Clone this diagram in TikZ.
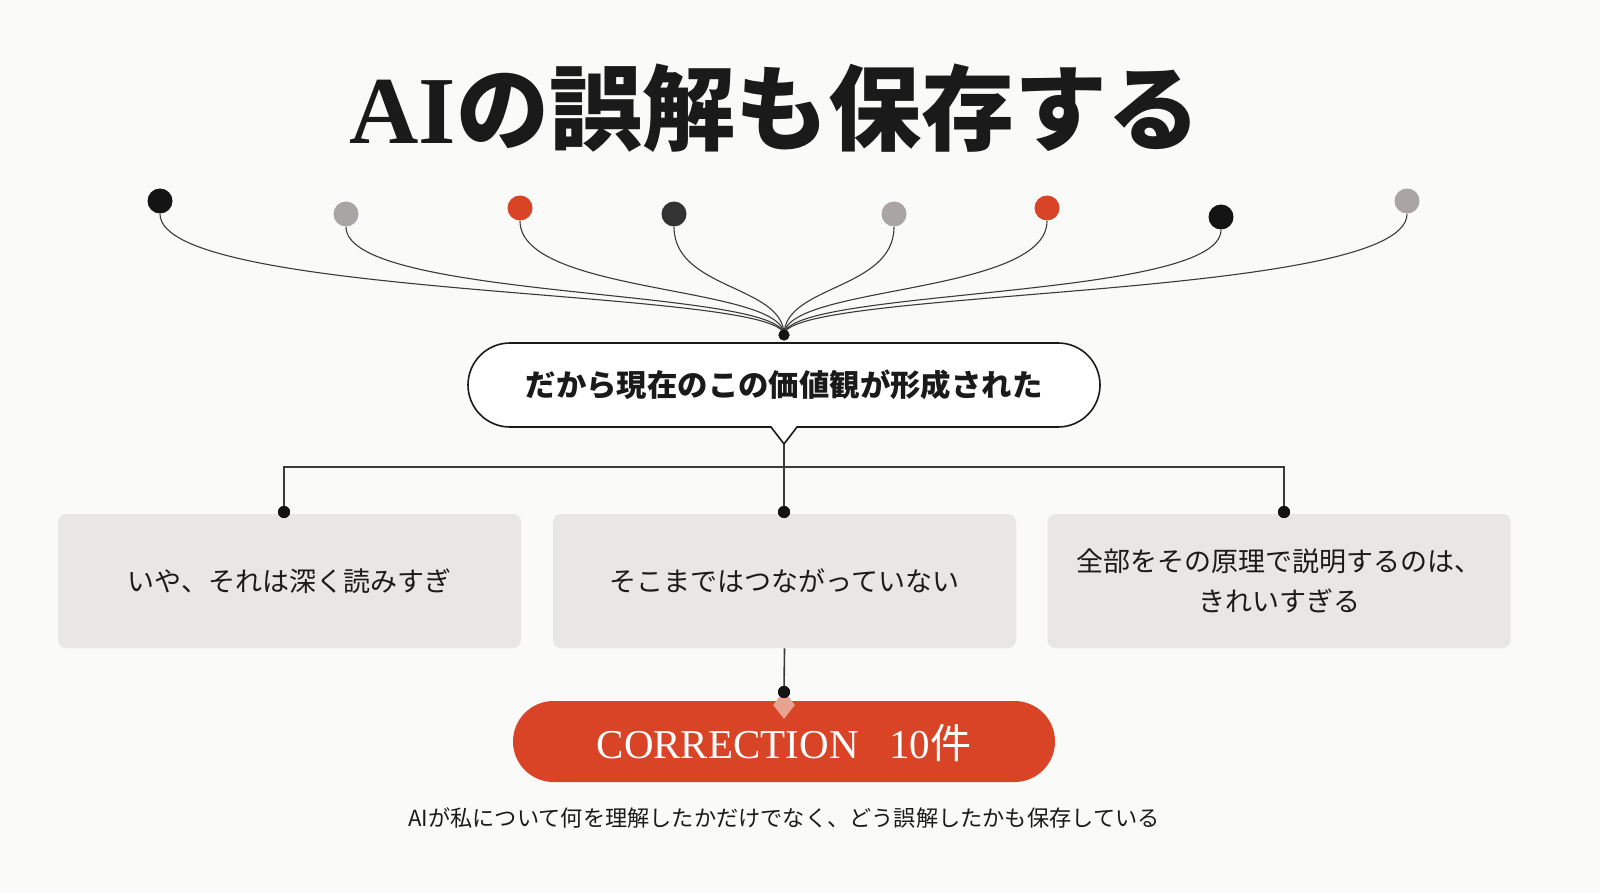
\documentclass[tikz,border=0pt]{standalone}
\usepackage{fontspec}
\setmainfont{Liberation Serif}
\newfontfamily\cjk{Noto Sans CJK JP}
\newfontfamily\lserif{Liberation Serif}
\usetikzlibrary{shapes.geometric}
\definecolor{bg}{HTML}{FAFAF9}
\definecolor{accent}{HTML}{D94426}
\definecolor{dotgray}{HTML}{A8A5A2}
\definecolor{dotdark}{HTML}{333333}
\definecolor{dotblack}{HTML}{141414}
\definecolor{boxgray}{HTML}{E8E7E5}
\definecolor{diam}{HTML}{EBA391}
\definecolor{ink}{HTML}{1A1A1A}
\definecolor{linec}{HTML}{3A3A3A}
\begin{document}
\begin{tikzpicture}[x=0.5pt,y=-0.5pt,
  topdot/.style={circle,inner sep=0pt,minimum size=12.5pt,draw=none},
  smalldot/.style={circle,inner sep=0pt,minimum size=6pt,fill=dotblack},
  curve/.style={draw=linec,line width=0.55pt},
  conn/.style={draw=linec,line width=0.8pt},
  greybox/.style={rectangle,rounded corners=4pt,fill=boxgray,draw=none,minimum width=231.5pt,minimum height=67pt,align=center,font=\cjk\fontsize{13.5}{20}\selectfont,text=ink},
]
\fill[bg] (0,0) rectangle (1600,893);
\useasboundingbox (0,0) rectangle (1600,893);

% title
\node[text=ink] (title) at (775,108) {{\lserif\bfseries\fontsize{48}{58}\selectfont AI}{\cjk\bfseries\fontsize{46.5}{58}\selectfont の誤解も保存する}};

% top dots
\node[topdot,fill=dotblack] (d1) at (160,201) {};
\node[topdot,fill=dotgray]  (d2) at (346,214) {};
\node[topdot,fill=accent]   (d3) at (520,208) {};
\node[topdot,fill=dotdark]  (d4) at (674,214) {};
\node[topdot,fill=dotgray]  (d5) at (894,214) {};
\node[topdot,fill=accent]   (d6) at (1047,208) {};
\node[topdot,fill=dotblack] (d7) at (1221,217) {};
\node[topdot,fill=dotgray]  (d8) at (1407,201) {};

\node[smalldot,minimum size=5.5pt] (hub) at (784,335) {};

\draw[curve] (d1.south) .. controls (160,300) and (784,288) .. (hub.center);
\draw[curve] (d2.south) .. controls (346,300) and (784,288) .. (hub.center);
\draw[curve] (d3.south) .. controls (520,295) and (784,285) .. (hub.center);
\draw[curve] (d4.south) .. controls (674,290) and (784,285) .. (hub.center);
\draw[curve] (d5.south) .. controls (894,290) and (784,285) .. (hub.center);
\draw[curve] (d6.south) .. controls (1047,295) and (784,285) .. (hub.center);
\draw[curve] (d7.south) .. controls (1221,300) and (784,288) .. (hub.center);
\draw[curve] (d8.south) .. controls (1407,300) and (784,288) .. (hub.center);
\node[smalldot,minimum size=5.5pt] at (hub) {};

% speech bubble
\draw[draw=ink,line width=0.8pt,fill=white] (510,343) -- (1058,343) arc(-90:90:42) -- (797,427) -- (784,444) -- (771,427) -- (510,427) arc(90:270:42) -- cycle;
\node[text=ink,font=\cjk\bfseries\fontsize{15.2}{20}\selectfont] (bubble) at (784,385) {だから現在のこの価値観が形成された};
\coordinate (tail) at (784,444);

% tree
\node[greybox] (box1) at (289.5,581) {いや、それは深く読みすぎ};
\node[greybox] (box2) at (784.5,581) {そこまではつながっていない};
\node[greybox] (box3) at (1279,581) {全部をその原理で説明するのは、\\きれいすぎる};

\coordinate (barL) at (284,467);
\coordinate (barR) at (1284,467);
\node[smalldot] (b1d) at (284,512) {};
\node[smalldot] (b2d) at (784,512) {};
\node[smalldot] (b3d) at (1284,512) {};
\draw[conn] (b1d.center) -- (barL) -- (barR) -- (b3d.center);
\draw[conn] (tail) -- (b2d.center);
\node[smalldot] at (b1d) {};
\node[smalldot] at (b2d) {};
\node[smalldot] at (b3d) {};

% correction pill
\node[rectangle,rounded corners=20.25pt,fill=accent,minimum width=271pt,minimum height=40.5pt,inner sep=0pt] (pill) at (784,741.5) {};
\node[text=white,font=\fontsize{20.5}{24}\selectfont] (pilltext) at (784,743) {CORRECTION\hspace{0.75em}10{\cjk 件}};
\node[diamond,fill=diam,inner sep=0pt,minimum width=11pt,minimum height=14pt] (dia) at (784,705) {};
\node[smalldot] (cdot) at (784,692) {};
\draw[conn] (box2.south) -- (cdot.center);
\node[smalldot] at (cdot) {};

% caption
\node[text=ink,font=\cjk\fontsize{11.1}{14}\selectfont] (caption) at (784,818) {AIが私について何を理解したかだけでなく、どう誤解したかも保存している};
\end{tikzpicture}
\end{document}
